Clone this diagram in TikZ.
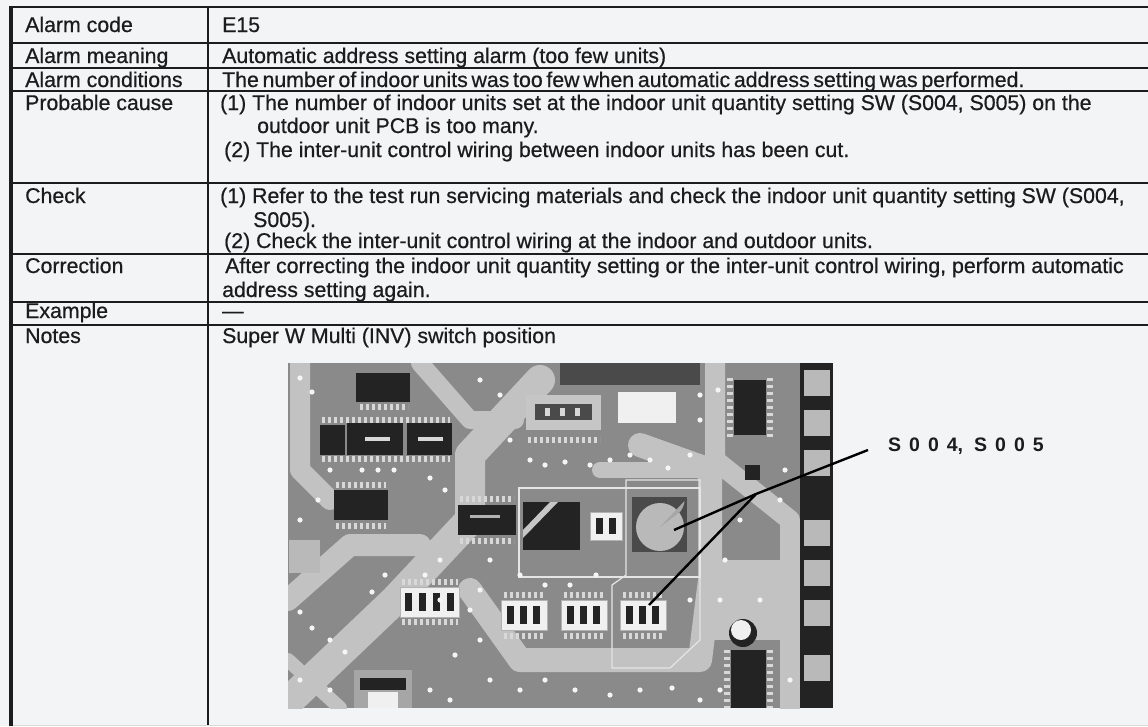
\documentclass[tikz,border=0pt]{standalone}
\usepackage{fontspec}
\setmainfont[FakeBold=0.6]{Liberation Sans}
\newfontfamily\lblfam{Liberation Sans}
\newcommand\tabfont{\fontsize{21.3}{24}\selectfont}
\newcommand\lblfont{\lblfam\bfseries\fontsize{19.5}{22}\selectfont}
\definecolor{bg}{HTML}{F3F4F6}
\definecolor{ink}{HTML}{1C1C1C}
\definecolor{pcb}{HTML}{8A8A8A}
\definecolor{pcblt}{HTML}{C2C2C2}
\definecolor{pcbdk}{HTML}{4A4A4A}
\definecolor{chip}{HTML}{232323}
\definecolor{pinc}{HTML}{D8D8D8}
\definecolor{dipw}{HTML}{F0F0F0}
\begin{document}
\begin{tikzpicture}[x=1pt,y=-1pt,
  rule/.style={draw=ink, line width=2pt},
  txt/.style={anchor=base west, inner sep=0pt, font=\tabfont, text=ink},
  leader/.style={draw=black, line width=2.4pt},
  chipbody/.style={fill=chip},
  pins/.style={draw=pinc, line width=6pt, dash pattern=on 3pt off 3pt},
  vpins/.style={draw=pinc, line width=6pt, dash pattern=on 3pt off 4pt},
  trace/.style={draw=pcblt, line cap=round, line join=round},
  via/.style={fill=white!92!gray},
  dipbox/.style={fill=dipw, draw=gray!60, line width=0.6pt},
  slot/.style={fill=chip},
  outline/.style={draw=gray!20, line width=1.2pt}]
\useasboundingbox (0,0) rectangle (1148,726);
\fill[bg] (0,0) rectangle (1148,726);

% ---------------- table rules ----------------
\draw[rule, line width=1.6pt] (11,7) -- (1148,7);
\foreach \yy in {43,68,91,183,254,302,325}
  \draw[rule] (11,\yy) -- (1148,\yy);
\draw[rule] (208,7) -- (208,726);
\draw[draw=gray!30, line width=1pt] (11,725) -- (1148,725);
\draw[draw=ink, line width=3.5pt] (11,5.5) -- (11,726);

% ---------------- texts ----------------
\node[txt] (l1) at (25,32) {Alarm code};
\node[txt] (v1) at (222,32) {E15};
\node[txt] (l2) at (25,63) {Alarm meaning};
\node[txt] (v2) at (222,63) {Automatic address setting alarm (too few units)};
\node[txt] (l3) at (25,87) {Alarm conditions};
\node[txt] (v3) at (222,87) {\spaceskip=3.7pt The number of indoor units was too few when automatic address setting was performed.};
\node[txt] (l4) at (25,110) {Probable cause};
\node[txt] (v4a) at (220,110) {(1) The number of indoor units set at the indoor unit quantity setting SW (S004, S005) on the};
\node[txt] (v4b) at (257,133) {outdoor unit PCB is too many.};
\node[txt] (v4c) at (224,157) {(2) The inter-unit control wiring between indoor units has been cut.};
\node[txt] (l5) at (25,203) {Check};
\node[txt] (v5a) at (220,203) {(1) Refer to the test run servicing materials and check the indoor unit quantity setting SW (S004,};
\node[txt] (v5b) at (253,227) {S005).};
\node[txt] (v5c) at (224,248) {(2) Check the inter-unit control wiring at the indoor and outdoor units.};
\node[txt] (l6) at (25,273) {Correction};
\node[txt] (v6a) at (225,273) {After correcting the indoor unit quantity setting or the inter-unit control wiring, perform automatic};
\node[txt] (v6b) at (222,297) {address setting again.};
\node[txt] (l7) at (25,318) {Example};
\node[txt] (v7) at (222,318) {—};
\node[txt] (l8) at (25,343) {Notes};
\node[txt] (v8) at (222,343) {Super W Multi (INV) switch position};

% ---------------- PCB picture ----------------
\fill[pcb] (288,363) rectangle (833,708);
\begin{scope}
\clip (288,363) rectangle (833,708);
% lighter board areas / traces
\draw[trace, line width=30pt] (290,700) -- (395,600) -- (470,520) -- (470,455) -- (540,380);
\draw[trace, line width=22pt] (288,600) -- (350,545) -- (420,545);
\draw[trace, line width=20pt] (300,363) -- (300,470) -- (330,500);
\draw[trace, line width=18pt] (420,363) -- (470,420) -- (515,420);
\draw[trace, line width=24pt] (470,590) -- (520,660) -- (700,660) -- (710,580) -- (710,470) -- (640,445);
\draw[trace, line width=16pt] (600,470) -- (700,470);
\draw[trace, line width=20pt] (715,363) -- (715,460) -- (790,520) -- (790,708);
\draw[trace, line width=14pt] (288,660) -- (340,708);
\fill[pcblt] (700,560) rectangle (790,640);
\fill[pcbdk] (560,363) rectangle (700,385);
% outlines around switch group
\draw[outline] (519,488) rectangle (700,577);
\draw[outline] (626,480) -- (700,480) -- (700,640) -- (670,668) -- (612,668) -- (612,585) -- (626,575) -- cycle;
% top-left chip
\fill[chipbody] (356,373) rectangle (410,402);
\draw[pins] (360,407) -- (408,407);
% relay chips
\draw[pins] (322,420) -- (450,420);
\draw[pins] (322,459) -- (450,459);
\fill[chipbody] (320,425) rectangle (345,455);
\fill[chipbody] (347,423) rectangle (403,455);
\fill[chipbody] (407,423) rectangle (452,455);
\fill[pinc] (365,437) rectangle (390,441);
\fill[pinc] (418,437) rectangle (443,441);
% SOIC left
\draw[pins] (336,485) -- (386,485);
\draw[pins] (336,526) -- (386,526);
\fill[chipbody] (334,490) rectangle (388,520);
% middle chip
\draw[pins] (460,499) -- (514,499);
\draw[pins] (460,541) -- (514,541);
\fill[chipbody] (458,505) rectangle (516,535);
\fill[gray!60] (470,515) rectangle (500,518);
% black square
\fill[chipbody] (523,502) rectangle (580,550);
\fill[gray!45] (523,530) -- (550,502) -- (558,502) -- (523,538) -- cycle;
% small white switch
\fill[dipbox] (590,512) rectangle (622,540);
\fill[slot] (596,518) rectangle (603,534);
\fill[slot] (609,518) rectangle (616,534);
% rotary switch
\fill[pcbdk] (632,497) rectangle (687,552);
\fill[gray!55] (660,527) circle (24pt);
\fill[gray!70] (660,527) -- (680,512) arc (-37:-8:24pt) -- cycle;
% DIP 4
\draw[pins] (402,582) -- (458,582);
\draw[pins] (402,622) -- (458,622);
\fill[dipbox] (400,587) rectangle (459,617);
\foreach \xx in {405,419,433,447}
  \fill[slot] (\xx,593) rectangle (\xx+7,611);
% DIP 3 x3
\foreach \dx in {501,561,620}{
  \draw[pins] (\dx+3,595) -- (\dx+44,595);
  \draw[pins] (\dx+3,636) -- (\dx+44,636);
  \fill[dipbox] (\dx,600) rectangle (\dx+46,630);
  \foreach \k in {0,1,2}
    \fill[slot] (\dx+6+\k*13,606) rectangle (\dx+13+\k*13,624);
}
% top connector
\fill[gray!45] (526,395) rectangle (601,430);
\fill[pcbdk] (535,404) rectangle (592,420);
\foreach \xx in {545,560,575}
  \fill[pinc] (\xx,408) rectangle (\xx+5,416);
\draw[pins] (528,440) -- (600,440);
% white block
\fill[dipw] (618,392) rectangle (676,423);
% right SOIC
\draw[vpins] (730,378) -- (730,437);
\draw[vpins] (770,378) -- (770,437);
\fill[chipbody] (734,380) rectangle (766,435);
\fill[chipbody] (745,465) rectangle (760,480);
% right column
\fill[chip] (800,363) rectangle (833,708);
\foreach \yy in {370,410,450,520,560,600,655}
  \fill[gray!55] (804,\yy) rectangle (830,\yy+26);
% electrolytic cap
\fill[chip] (743,633) circle (14pt);
\fill[dipw] (741,630) circle (10pt);
% bottom chip
\draw[vpins] (727,650) -- (727,708);
\draw[vpins] (770,650) -- (770,708);
\fill[chipbody] (731,650) rectangle (766,708);
% bottom-left connector
\fill[gray!70] (354,670) rectangle (412,708);
\fill[chipbody] (360,678) rectangle (406,690);
\fill[dipw] (368,692) rectangle (398,708);
% left block
\fill[gray!55] (289,540) rectangle (320,573);
% vias
\foreach \p in {(300,378),(312,392),(330,470),(318,500),(300,520),(362,470),(378,470),(394,470),
  (430,478),(445,490),(440,560),(425,575),(385,575),(372,592),(300,612),(312,628),(330,640),
  (345,652),(470,610),(480,640),(455,655),(490,680),(520,690),(545,680),(575,690),(610,695),
  (640,690),(672,688),(700,700),(530,460),(545,465),(565,462),(590,465),(610,460),(630,455),
  (650,460),(668,468),(690,455),(700,420),(718,390),(700,395),(480,380),(500,395),(510,440),
  (520,575),(545,585),(570,585),(596,575),(690,600),(725,560),(740,520),(780,500),(785,470),
  (720,600),(760,600),(720,690),(790,680),(430,690),(450,700),(330,690),(300,680),(440,600),
  (480,590),(490,560)}
  \fill[via] \p circle (2.6pt);
\end{scope}

% ---------------- label and leaders ----------------
\node[anchor=west, inner sep=0pt, font=\lblfont, text=ink] (lbl) at (888,446)
  {S\kern8pt 0\kern8pt 0\kern8pt 4,\kern11pt S\kern8pt 0\kern8pt 0\kern8pt 5};
\coordinate (lend) at ([shift={(-20,4)}]lbl.west);
\coordinate (j) at (756,494);
\coordinate (rot) at (674,530);
\coordinate (dip) at (649,605);
\draw[leader] (lend) -- (j) -- (rot);
\draw[leader] (j) -- (dip);
\end{tikzpicture}
\end{document}
